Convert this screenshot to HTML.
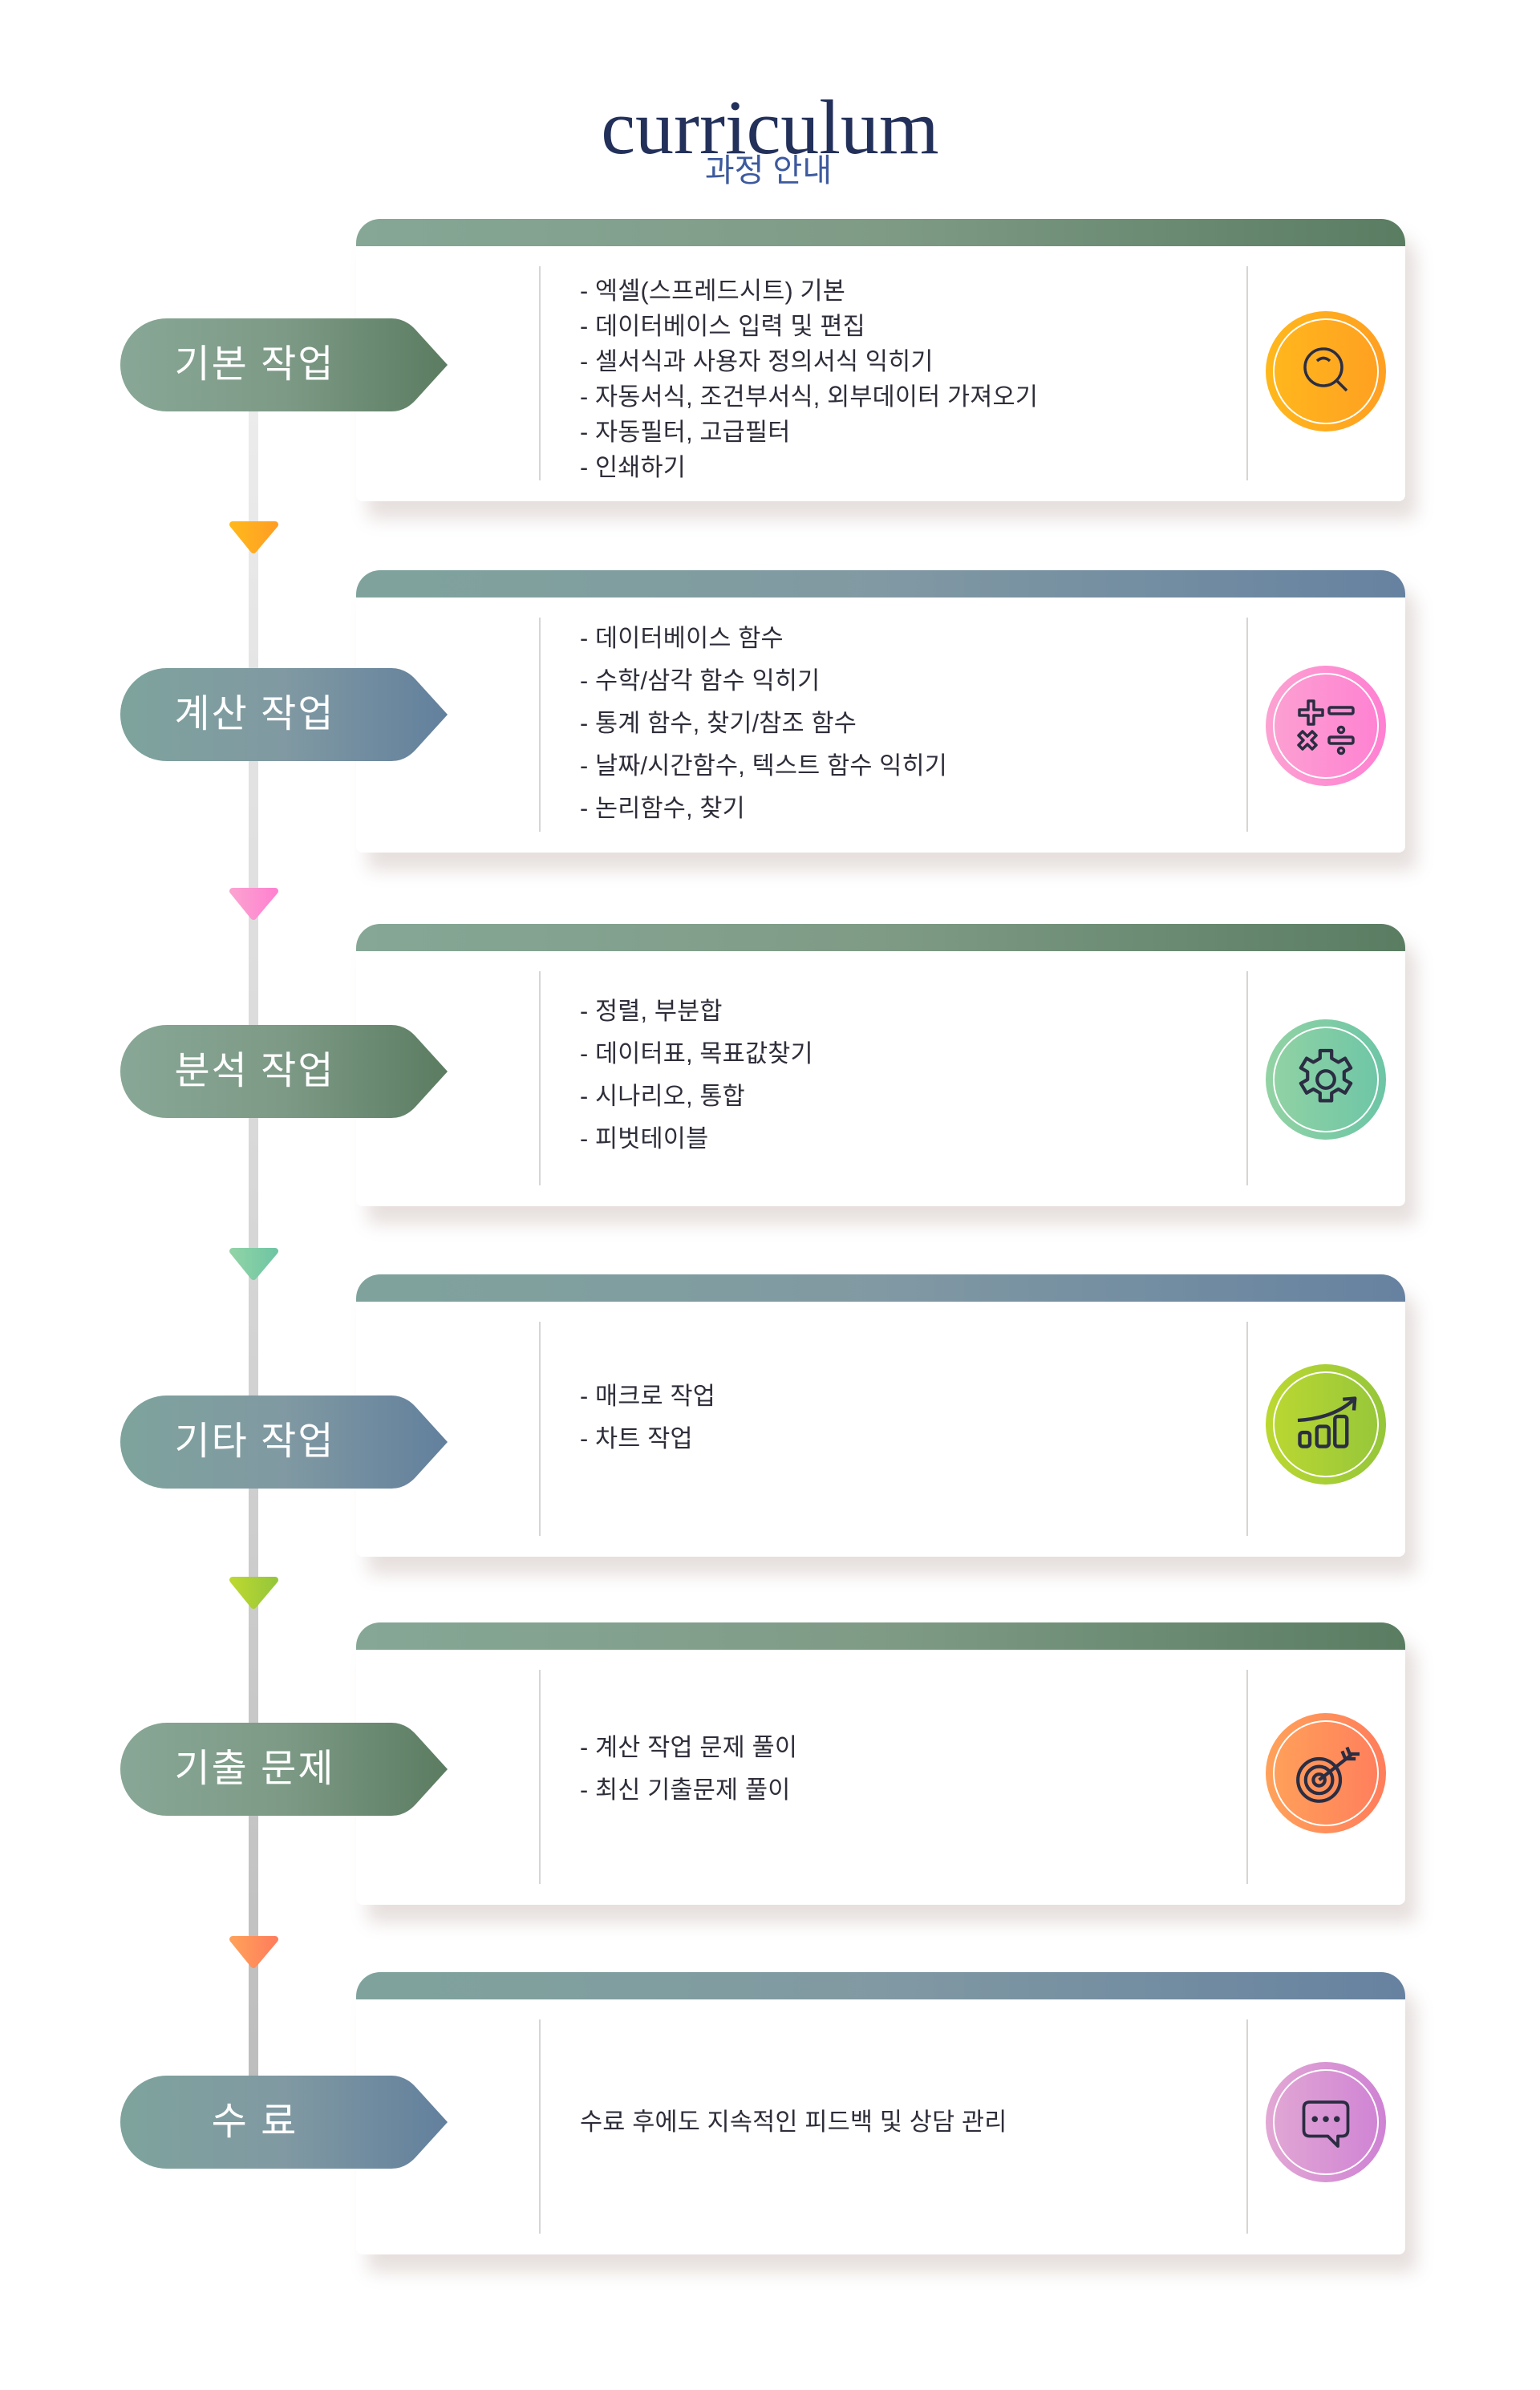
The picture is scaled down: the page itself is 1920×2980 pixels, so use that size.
<!DOCTYPE html>
<html><head><meta charset="utf-8">
<style>
*{margin:0;padding:0;box-sizing:border-box}
body{width:1920px;height:2980px;background:#fff;position:relative;overflow:hidden;font-family:"Liberation Sans","Noto Sans CJK KR",sans-serif}
.abs{position:absolute}
.card{position:absolute;left:444px;width:1308px;height:352px;background:#fff;border-radius:30px 30px 8px 8px;box-shadow:14px 22px 22px rgba(140,110,100,0.22);overflow:hidden;z-index:1}
.bar{position:absolute;left:0;top:0;width:100%;height:34px}
.g{background:linear-gradient(90deg,#86a796,#7f9b86 50%,#5a7d62)}
.b{background:linear-gradient(90deg,#7fa39c,#8199a3 50%,#6682a0)}
.dl{position:absolute;top:59px;width:2px;height:267px;background:#d8d4d4}
.t{position:absolute;left:279px;font-size:30.5px;color:#2e2e3a;line-height:44px;white-space:nowrap;letter-spacing:0.2px;font-family:"Liberation Sans","Noto Sans CJK KR",sans-serif}
.pl{position:absolute;left:150px;width:408px;height:116px;z-index:5}
.pt{position:absolute;left:150px;width:335px;height:116px;line-height:116px;text-align:center;color:#fff;font-size:48px;letter-spacing:2px;z-index:6;font-family:"Liberation Sans","Noto Sans CJK KR",sans-serif}
.ic{position:absolute;left:1134px;width:150px;height:150px}
</style></head><body>

<div class="abs" style="left:0;top:104px;width:1920px;text-align:center;font-family:'Liberation Serif',serif;font-size:96px;line-height:110px;color:#22305a">curriculum</div>
<div class="abs" style="left:0;top:188px;width:1916px;text-align:center;font-size:40px;line-height:50px;color:#3d5a9e;z-index:2;font-family:'Liberation Sans','Noto Sans CJK KR',sans-serif">과정 안내</div>

<div class="abs" style="left:310px;top:500px;width:12px;height:2100px;background:linear-gradient(180deg,#ececec,#d6d6d6 50%,#bdbdbd)"></div>

<svg class="abs" style="left:0;top:0" width="1920" height="2980">
<defs>
<linearGradient id="t1" x1="0" x2="1"><stop offset="0" stop-color="#ffb81c"/><stop offset="1" stop-color="#ff9e24"/></linearGradient>
<linearGradient id="t2" x1="0" x2="1"><stop offset="0" stop-color="#fba2d0"/><stop offset="1" stop-color="#ff82d0"/></linearGradient>
<linearGradient id="t3" x1="0" x2="1"><stop offset="0" stop-color="#90d3a6"/><stop offset="1" stop-color="#6fc6a4"/></linearGradient>
<linearGradient id="t4" x1="0" x2="1"><stop offset="0" stop-color="#bcd830"/><stop offset="1" stop-color="#96c73a"/></linearGradient>
<linearGradient id="t5" x1="0" x2="1"><stop offset="0" stop-color="#ffa05a"/><stop offset="1" stop-color="#ff7e5c"/></linearGradient>
</defs>
<g stroke-linejoin="round" stroke-width="8">
<path d="M290 654 L343 654 L316 686 Z" fill="url(#t1)" stroke="url(#t1)"/>
<path d="M290 1111 L343 1111 L316 1143 Z" fill="url(#t2)" stroke="url(#t2)"/>
<path d="M290 1560 L343 1560 L316 1592 Z" fill="url(#t3)" stroke="url(#t3)"/>
<path d="M290 1970 L343 1970 L316 2002 Z" fill="url(#t4)" stroke="url(#t4)"/>
<path d="M290 2418 L343 2418 L316 2450 Z" fill="url(#t5)" stroke="url(#t5)"/>
</g>
</svg>

<svg width="0" height="0" style="position:absolute">
<defs>
<linearGradient id="pg" x1="0" x2="1"><stop offset="0" stop-color="#88a796"/><stop offset="0.5" stop-color="#7d9a86"/><stop offset="1" stop-color="#5b7c61"/></linearGradient>
<linearGradient id="pb" x1="0" x2="1"><stop offset="0" stop-color="#7ea39c"/><stop offset="0.5" stop-color="#8099a2"/><stop offset="1" stop-color="#62809d"/></linearGradient>
</defs>
</svg>

<!-- card 1 -->
<svg class="pl" style="top:397px" viewBox="0 0 408 116"><path d="M58 0 L338 0 Q355 0 368 14 L408 58 L368 102 Q355 116 338 116 L58 116 A58 58 0 0 1 58 0 Z" fill="url(#pg)"/></svg>
<div class="pt" style="top:397px">기본 작업</div>
<div class="card" style="top:273px"><div class="bar g"></div><div class="dl" style="left:228px"></div><div class="dl" style="left:1110px"></div>
<div class="t" style="top:68px">- 엑셀(스프레드시트) 기본</div>
<div class="t" style="top:112px">- 데이터베이스 입력 및 편집</div>
<div class="t" style="top:156px">- 셀서식과 사용자 정의서식 익히기</div>
<div class="t" style="top:200px">- 자동서식, 조건부서식, 외부데이터 가져오기</div>
<div class="t" style="top:244px">- 자동필터, 고급필터</div>
<div class="t" style="top:288px">- 인쇄하기</div>
<svg class="ic" style="top:115px" viewBox="0 0 150 150"><defs><linearGradient id="c1" x1="0" x2="1"><stop offset="0" stop-color="#ffb81c"/><stop offset="1" stop-color="#ff9f22"/></linearGradient></defs><circle cx="75" cy="75" r="75" fill="url(#c1)"/><circle cx="75" cy="75" r="65" fill="none" stroke="#fff" stroke-width="2"/><g fill="none" stroke="#2b2d42" stroke-width="3.5"><circle cx="72" cy="70" r="23"/><path d="M88 86 L101 99"/><path d="M64 62 Q72 55 80 62"/></g></svg>
</div>

<!-- card 2 -->
<svg class="pl" style="top:833px" viewBox="0 0 408 116"><path d="M58 0 L338 0 Q355 0 368 14 L408 58 L368 102 Q355 116 338 116 L58 116 A58 58 0 0 1 58 0 Z" fill="url(#pb)"/></svg>
<div class="pt" style="top:833px">계산 작업</div>
<div class="card" style="top:711px"><div class="bar b"></div><div class="dl" style="left:228px"></div><div class="dl" style="left:1110px"></div>
<div class="t" style="top:63px">- 데이터베이스 함수</div>
<div class="t" style="top:116px">- 수학/삼각 함수 익히기</div>
<div class="t" style="top:169px">- 통계 함수, 찾기/참조 함수</div>
<div class="t" style="top:222px">- 날짜/시간함수, 텍스트 함수 익히기</div>
<div class="t" style="top:275px">- 논리함수, 찾기</div>
<svg class="ic" style="top:119px" viewBox="0 0 150 150"><defs><linearGradient id="c2" x1="0" x2="1"><stop offset="0" stop-color="#fca2d2"/><stop offset="1" stop-color="#ff80d2"/></linearGradient></defs><circle cx="75" cy="75" r="75" fill="url(#c2)"/><circle cx="75" cy="75" r="65" fill="none" stroke="#fff" stroke-width="2"/><g fill="none" stroke="#2b2d42" stroke-width="3.5" stroke-linejoin="round"><path d="M53 44 h7 v11 h11 v7 h-11 v11 h-7 v-11 h-11 v-7 h11 z"/><rect x="79" y="52" width="30" height="8" rx="2"/><path d="M46 82 l6 6 l6 -6 l5 5 l-6 6 l6 6 l-5 5 l-6 -6 l-6 6 l-5 -5 l6 -6 l-6 -6 z"/><rect x="79" y="89" width="30" height="8" rx="2"/><circle cx="94" cy="80" r="3.5"/><circle cx="94" cy="106" r="3.5"/></g></svg>
</div>

<!-- card 3 -->
<svg class="pl" style="top:1278px" viewBox="0 0 408 116"><path d="M58 0 L338 0 Q355 0 368 14 L408 58 L368 102 Q355 116 338 116 L58 116 A58 58 0 0 1 58 0 Z" fill="url(#pg)"/></svg>
<div class="pt" style="top:1278px">분석 작업</div>
<div class="card" style="top:1152px"><div class="bar g"></div><div class="dl" style="left:228px"></div><div class="dl" style="left:1110px"></div>
<div class="t" style="top:87px">- 정렬, 부분합</div>
<div class="t" style="top:140px">- 데이터표, 목표값찾기</div>
<div class="t" style="top:193px">- 시나리오, 통합</div>
<div class="t" style="top:246px">- 피벗테이블</div>
<svg class="ic" style="top:119px" viewBox="0 0 150 150"><defs><linearGradient id="c3" x1="0" x2="1"><stop offset="0" stop-color="#93d3a4"/><stop offset="1" stop-color="#6cc5a6"/></linearGradient></defs><circle cx="75" cy="75" r="75" fill="url(#c3)"/><circle cx="75" cy="75" r="65" fill="none" stroke="#fff" stroke-width="2"/><g fill="none" stroke="#2b2d42" stroke-width="3.5" stroke-linejoin="round" transform="translate(75 75) scale(1.2) translate(-75 -76)"><path d="M69 46 h12 v8 l7 4 l7 -4 l6 10 l-7 4 v8 l7 4 l-6 10 l-7 -4 l-7 4 v8 h-12 v-8 l-7 -4 l-7 4 l-6 -10 l7 -4 v-8 l-7 -4 l6 -10 l7 4 l7 -4 z"/><circle cx="75" cy="76" r="9"/></g></svg>
</div>

<!-- card 4 -->
<svg class="pl" style="top:1740px" viewBox="0 0 408 116"><path d="M58 0 L338 0 Q355 0 368 14 L408 58 L368 102 Q355 116 338 116 L58 116 A58 58 0 0 1 58 0 Z" fill="url(#pb)"/></svg>
<div class="pt" style="top:1740px">기타 작업</div>
<div class="card" style="top:1589px"><div class="bar b"></div><div class="dl" style="left:228px"></div><div class="dl" style="left:1110px"></div>
<div class="t" style="top:130px">- 매크로 작업</div>
<div class="t" style="top:183px">- 차트 작업</div>
<svg class="ic" style="top:112px" viewBox="0 0 150 150"><defs><linearGradient id="c4" x1="0" x2="1"><stop offset="0" stop-color="#bcd831"/><stop offset="1" stop-color="#95c63a"/></linearGradient></defs><circle cx="75" cy="75" r="75" fill="url(#c4)"/><circle cx="75" cy="75" r="65" fill="none" stroke="#fff" stroke-width="2"/><g fill="none" stroke="#2b2d42" stroke-width="3.5" stroke-linejoin="round" transform="translate(75 75) scale(1.25) translate(-73 -70)"><rect x="47" y="78" width="10" height="14" rx="3"/><rect x="64" y="72" width="12" height="20" rx="3"/><rect x="82" y="62" width="12" height="30" rx="3"/><path d="M45 66 Q80 64 100 46"/><path d="M90 45 L102 44 L101 56"/></g></svg>
</div>

<!-- card 5 -->
<svg class="pl" style="top:2148px" viewBox="0 0 408 116"><path d="M58 0 L338 0 Q355 0 368 14 L408 58 L368 102 Q355 116 338 116 L58 116 A58 58 0 0 1 58 0 Z" fill="url(#pg)"/></svg>
<div class="pt" style="top:2148px">기출 문제</div>
<div class="card" style="top:2023px"><div class="bar g"></div><div class="dl" style="left:228px"></div><div class="dl" style="left:1110px"></div>
<div class="t" style="top:134px">- 계산 작업 문제 풀이</div>
<div class="t" style="top:187px">- 최신 기출문제 풀이</div>
<svg class="ic" style="top:113px" viewBox="0 0 150 150"><defs><linearGradient id="c5" x1="0" x2="1"><stop offset="0" stop-color="#ffa25a"/><stop offset="1" stop-color="#ff7d5c"/></linearGradient></defs><circle cx="75" cy="75" r="75" fill="url(#c5)"/><circle cx="75" cy="75" r="65" fill="none" stroke="#fff" stroke-width="2"/><g fill="none" stroke="#2b2d42" stroke-width="3.5" transform="translate(75 75) scale(1.2) translate(-77 -73)"><circle cx="70" cy="80" r="22"/><circle cx="70" cy="80" r="14"/><circle cx="70" cy="80" r="6"/><path d="M70 80 L102 55"/><path d="M94 50 L98 60 M99 46 L103 56 M97 58 L108 58 M101 53 L112 53"/></g></svg>
</div>

<!-- card 6 -->
<svg class="pl" style="top:2588px" viewBox="0 0 408 116"><path d="M58 0 L338 0 Q355 0 368 14 L408 58 L368 102 Q355 116 338 116 L58 116 A58 58 0 0 1 58 0 Z" fill="url(#pb)"/></svg>
<div class="pt" style="top:2588px">수 료</div>
<div class="card" style="top:2459px"><div class="bar b"></div><div class="dl" style="left:228px"></div><div class="dl" style="left:1110px"></div>
<div class="t" style="top:165px">수료 후에도 지속적인 피드백 및 상담 관리</div>
<svg class="ic" style="top:112px" viewBox="0 0 150 150"><defs><linearGradient id="c6" x1="0" x2="1"><stop offset="0" stop-color="#e2a8d4"/><stop offset="1" stop-color="#cf82d4"/></linearGradient></defs><circle cx="75" cy="75" r="75" fill="url(#c6)"/><circle cx="75" cy="75" r="65" fill="none" stroke="#fff" stroke-width="2"/><g transform="translate(75 75) scale(1.25) translate(-76 -72)"><g fill="none" stroke="#2b2d42" stroke-width="3" stroke-linejoin="round"><path d="M54 58 Q54 52 60 52 H92 Q98 52 98 58 V80 Q98 86 92 86 H88 V96 L78 86 H60 Q54 86 54 80 Z"/></g><g fill="#2b2d42"><circle cx="65" cy="69" r="3"/><circle cx="76" cy="69" r="3"/><circle cx="87" cy="69" r="3"/></g></g></svg>
</div>

</body></html>
